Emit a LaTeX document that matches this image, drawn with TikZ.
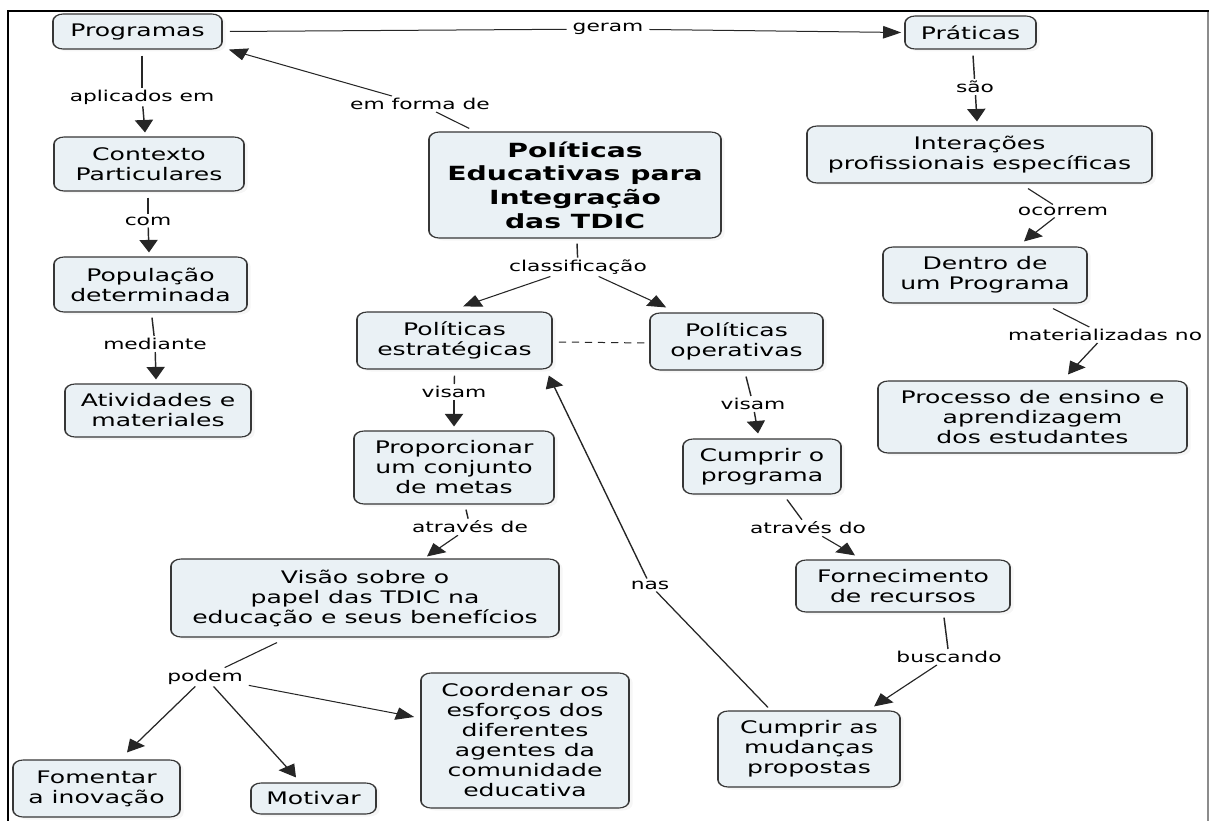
\documentclass[tikz,border=0pt]{standalone}
\usepackage{fontspec}
\setmainfont{DejaVu Sans}
\usetikzlibrary{arrows.meta,calc,shadows}

\definecolor{boxfill}{RGB}{234,241,245}
\definecolor{boxline}{RGB}{55,55,55}
\newcommand\boxfont{\fontsize{17.3}{20}\selectfont}
\newcommand\titlefont{\fontsize{19.5}{23.7}\selectfont\bfseries}
\newcommand\linkfont{\fontsize{15}{18}\selectfont}

\tikzset{
  box/.style 2 args={draw=boxline, fill=boxfill, line width=1.1pt,
    rounded corners=7pt, align=center, font=\boxfont, inner sep=2pt,
    minimum width=#1pt/1.45, minimum height=#2pt,
    drop shadow={shadow xshift=2.5pt, shadow yshift=-2.5pt, fill=black!7}},
  lbl/.style={font=\linkfont, inner xsep=4pt, inner ysep=2pt},
  conn/.style={line width=1pt, draw=black!85},
  arr/.style={conn, -{Triangle[length=12.5pt,width=12.5pt]}},
}

\begin{document}
\begin{tikzpicture}[x=0.68966pt, y=-1pt]
\useasboundingbox (0pt,0pt) rectangle (1209pt,-821pt);

% frame
\draw[line width=2.2pt, black] (8pt,-821pt) -- (8pt,-11pt) -- (1209pt,-11pt);
\draw[line width=1.4pt, black!45] (1208pt,-12pt) -- (1208pt,-821pt);

\begin{scope}[transform canvas={xscale=1.45}]
% concepts
\node[box={169}{35}] (prog) at (137.5,31.5) {Programas};
\node[box={131}{33}] (prat) at (970.5,32.5) {Práticas};
\node[box={345}{57}] (inter) at (979.5,154.5) {Interações\\profissionais específicas};
\node[box={204}{56}] (dentro) at (985,275) {Dentro de\\um Programa};
\node[box={309}{72}] (proc) at (1032.5,417) {Processo de ensino e\\aprendizagem\\dos estudantes};
\node[box={190}{54}] (cont) at (149,164) {Contexto\\Particulares};
\node[box={193}{55}] (pop) at (150.5,284.5) {População\\determinada};
\node[box={186}{53}] (ativ) at (158,410.5) {Atividades e\\materiales};
\node[box={292}{106}, font=\titlefont] (cen) at (575,185) {Políticas\\Educativas para\\Integração\\das TDIC};
\node[box={195}{57}] (estr) at (454.5,340.5) {Políticas\\estratégicas};
\node[box={173}{57}] (oper) at (736.5,341.5) {Políticas\\operativas};
\node[box={200}{73}] (prop) at (454,467.5) {Proporcionar\\um conjunto\\de metas};
\node[box={158}{55}] (cumpp) at (762,466.5) {Cumprir o\\programa};
\node[box={214}{52}] (forn) at (903,586) {Fornecimento\\de recursos};
\node[box={388}{78}] (visao) at (365,598) {Visão sobre o\\papel das TDIC na\\educação e seus benefícios};
\node[box={208}{135}] (coord) at (525,740.5) {Coordenar os\\esforços dos\\diferentes\\agentes da\\comunidade\\educativa};
\node[box={167}{57}] (fom) at (96.5,788.5) {Fomentar\\a inovação};
\node[box={125}{31}] (mot) at (313.5,798.5) {Motivar};
\node[box={182}{76}] (cumpm) at (809,749) {Cumprir as\\mudanças\\propostas};

% linking phrases
\node[lbl] (geram) at (608,29) {geram};
\node[lbl] (aplic) at (142,97) {aplicados em};
\node[lbl] (forma) at (420,104) {em forma de};
\node[lbl] (com) at (148,221) {com};
\node[lbl] (medi) at (155,344) {mediante};
\node[lbl] (class) at (578,267) {classificação};
\node[lbl] (visamE) at (454,392) {visam};
\node[lbl] (visamO) at (753,404) {visam};
\node[lbl] (atde) at (470,527) {através de};
\node[lbl] (atdo) at (808,528) {através do};
\node[lbl] (nas) at (650,585) {nas};
\node[lbl] (busc) at (949,657) {buscando};
\node[lbl] (podem) at (205,677) {podem};
\node[lbl] (sao) at (975,87) {são};
\node[lbl] (ocor) at (1063,211) {ocorrem};
\node[lbl] (mater) at (1105,335) {materializadas no};

% connections
\draw[conn] ($(prog.east)+(7,0)$) -- (geram);
\draw[arr] (geram) -- ($(prat.west)+(-3,0)$);

\draw[conn] ($(prog.south)+(4.5,6)$) -- (aplic);
\draw[arr] (aplic) -- ($(cont.north)+(-4,-4)$);

\draw[conn] ($(cen.north west)+(41,-3)$) -- (forma);
\draw[arr] (forma) -- ($(prog.south east)+(6,0)$);

\draw[conn] ($(cont.south)+(-1,6)$) -- (com);
\draw[arr] (com) -- ($(pop.north)+(-1.5,-4)$);

\draw[conn] ($(pop.south)+(1.5,5)$) -- (medi);
\draw[arr] (medi) -- ($(ativ.north)+(-2,-4)$);

\draw[conn] ($(cen.south)+(2,5)$) -- (class);
\draw[arr] (class) -- ($(estr.north)+(8.5,-5)$);
\draw[arr] (class) -- ($(oper.north west)+(17,-5)$);

\draw[conn, dash pattern=on 5pt off 4pt] ($(estr.east)+(6,1.5)$) -- ($(oper.west)+(-2,1.5)$);

\draw[conn] ($(estr.south)+(0,6)$) -- (visamE);
\draw[arr] (visamE) -- ($(prop.north)+(0,-4)$);

\draw[conn] ($(oper.south)+(9.5,6)$) -- (visamO);
\draw[arr] (visamO) -- ($(cumpp.north)+(-4,-5)$);

\draw[conn] ($(prop.south)+(12,5)$) -- (atde);
\draw[arr] (atde) -- ($(visao.north)+(62,-2)$);

\draw[conn] ($(cumpp.south)+(25,5)$) -- (atdo);
\draw[arr] (atdo) -- ($(forn.north)+(-48,-4)$);

\draw[conn] ($(forn.south)+(41,5)$) -- (busc);
\draw[arr] (busc) -- ($(cumpm.north)+(65,-4)$);

\draw[conn] ($(cumpm.north)+(-41,-3)$) -- (nas);
\draw[arr] (nas) -- ($(estr.south east)+(-4,6)$);

\draw[conn] ($(visao.south)+(-88,5)$) -- (podem);
\draw[arr] (podem) -- ($(fom.north)+(30.5,-7)$);
\draw[arr] (podem) -- ($(mot.north)+(-17.5,-5)$);
\draw[arr] (podem) -- ($(coord.west)+(-6,-23.5)$);

\draw[conn] ($(prat.south)+(2.5,6)$) -- (sao);
\draw[arr] (sao) -- ($(inter.north)+(-2.5,-4)$);

\draw[conn] ($(inter.south)+(48.5,5)$) -- (ocor);
\draw[arr] (ocor) -- ($(dentro.north)+(39,-5)$);

\draw[conn] ($(dentro.south)+(68,5)$) -- (mater);
\draw[arr] (mater) -- ($(proc.north)+(35.5,-6)$);
\end{scope}
\end{tikzpicture}
\end{document}
